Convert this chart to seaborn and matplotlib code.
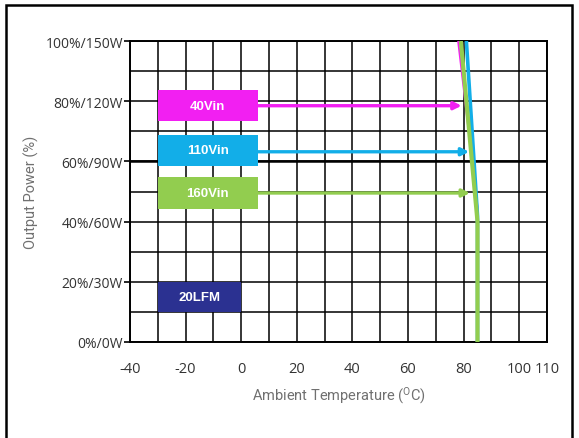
import matplotlib
matplotlib.use("Agg")
import matplotlib.pyplot as plt
from matplotlib.patches import Rectangle
from matplotlib.ticker import MultipleLocator
import seaborn as sns
import pandas as pd

# ---- data ----
series_names = ["40Vin", "110Vin", "160Vin"]
temps_40 = [78.0, 85.0, 85.0]
power_40 = [100.0, 45.0, 0.0]
temps_110 = [81.0, 85.0, 85.0]
power_110 = [100.0, 42.0, 0.0]
temps_160 = [79.0, 85.0, 85.0]
power_160 = [100.0, 40.0, 0.0]
colors = ["#f21ff2", "#12aee8", "#92cd4f"]

arrow_y = [78.5, 63.2, 49.5]
arrow_end = [79.3, 82.0, 82.3]
box_x = [-30.0, 6.0]
box_bottoms = [73.3, 58.6, 44.2]
box_tops = [83.7, 68.8, 54.7]

lfm_label = "20LFM"
lfm_box_x = [-30.0, 0.0]
lfm_box_y = [10.0, 20.0]
lfm_color = "#2b3191"

x_ticks = [-40, -20, 0, 20, 40, 60, 80, 100, 110]
y_ticks = [0, 20, 40, 60, 80, 100]
y_tick_labels = ["0%/0W", "20%/30W", "40%/60W", "60%/90W", "80%/120W", "100%/150W"]

df = pd.concat([
    pd.DataFrame({"temp": temps_40, "power": power_40, "series": series_names[0], "order": range(3)}),
    pd.DataFrame({"temp": temps_110, "power": power_110, "series": series_names[1], "order": range(3)}),
    pd.DataFrame({"temp": temps_160, "power": power_160, "series": series_names[2], "order": range(3)}),
], ignore_index=True)

sns.set_style("white")
plt.rcParams["font.family"] = ["Open Sans", "DejaVu Sans"]
plt.rcParams["mathtext.fontset"] = "custom"
plt.rcParams["mathtext.rm"] = "Roboto"

fig = plt.figure(figsize=(5.79, 4.39), dpi=100)
ax = fig.add_axes([130 / 579, 1 - 343 / 439, 417 / 579, 301 / 439])

# grid
ax.set_xlim(-40, 110)
ax.set_ylim(0, 100)
ax.set_xticks(x_ticks)
ax.set_xticklabels([str(t) for t in x_ticks])
ax.set_yticks(y_ticks)
ax.set_yticklabels(y_tick_labels)
ax.xaxis.set_minor_locator(MultipleLocator(10))
ax.yaxis.set_minor_locator(MultipleLocator(10))
ax.grid(True, which="both", color="black", linewidth=1.1, zorder=0)
ax.set_axisbelow(True)
ax.axhline(60, color="black", linewidth=1.8, zorder=0.5)
for s in ax.spines.values():
    s.set_color("black")
    s.set_linewidth(1.4)
ax.tick_params(axis="x", which="both", length=0, pad=14, labelsize=10.5, labelcolor="#333333")
ax.tick_params(axis="y", which="major", length=4, width=1.2, color="black", pad=1, labelsize=10, labelcolor="#333333", left=True)
ax.tick_params(axis="y", which="minor", length=0)

# boxes with arrows
for i, name in enumerate(series_names):
    ax.add_patch(Rectangle((box_x[0], box_bottoms[i]), box_x[1] - box_x[0],
                           box_tops[i] - box_bottoms[i], facecolor=colors[i],
                           edgecolor="none", zorder=3))
    ax.text((box_x[0] + box_x[1]) / 2, (box_bottoms[i] + box_tops[i]) / 2, name,
            color="white", fontsize=9.5, fontweight="bold", family="Liberation Sans",
            ha="center", va="center", zorder=4)
    ax.annotate("", xy=(arrow_end[i], arrow_y[i]), xytext=(box_x[1], arrow_y[i]),
                arrowprops=dict(arrowstyle="-|>", color=colors[i], lw=2.4,
                                mutation_scale=11, shrinkA=0, shrinkB=0),
                zorder=3)

ax.add_patch(Rectangle((lfm_box_x[0], lfm_box_y[0]), lfm_box_x[1] - lfm_box_x[0],
                       lfm_box_y[1] - lfm_box_y[0], facecolor=lfm_color,
                       edgecolor="none", zorder=3))
ax.text(sum(lfm_box_x) / 2, sum(lfm_box_y) / 2, lfm_label, color="white",
        fontsize=9.5, fontweight="bold", family="Liberation Sans",
        ha="center", va="center", zorder=4)

# derating curves
palette = dict(zip(series_names, colors))
widths = {"40Vin": 1.3, "110Vin": 2.6, "160Vin": 3.0}
for name in ["40Vin", "110Vin", "160Vin"]:
    sub = df[df["series"] == name]
    sns.lineplot(data=sub, x="temp", y="power", sort=False, color=palette[name],
                 linewidth=widths[name], ax=ax, legend=False, zorder=5,
                 estimator=None, solid_capstyle="butt")

ax.set_xlabel(r"Ambient Temperature ($\mathregular{^{O}}$C)", family="Roboto",
              fontsize=10.5, color="#707070", labelpad=6)
ax.set_ylabel("Output Power (%)", family="Roboto", fontsize=10.5, color="#707070",
              labelpad=5)

# outer frame
fig.patches.append(Rectangle((6 / 579, -0.1), 566 / 579, 1.1 - 6 / 439,
                             transform=fig.transFigure, fill=False,
                             edgecolor="black", linewidth=1.8))

fig.savefig("out.png", dpi=100)
